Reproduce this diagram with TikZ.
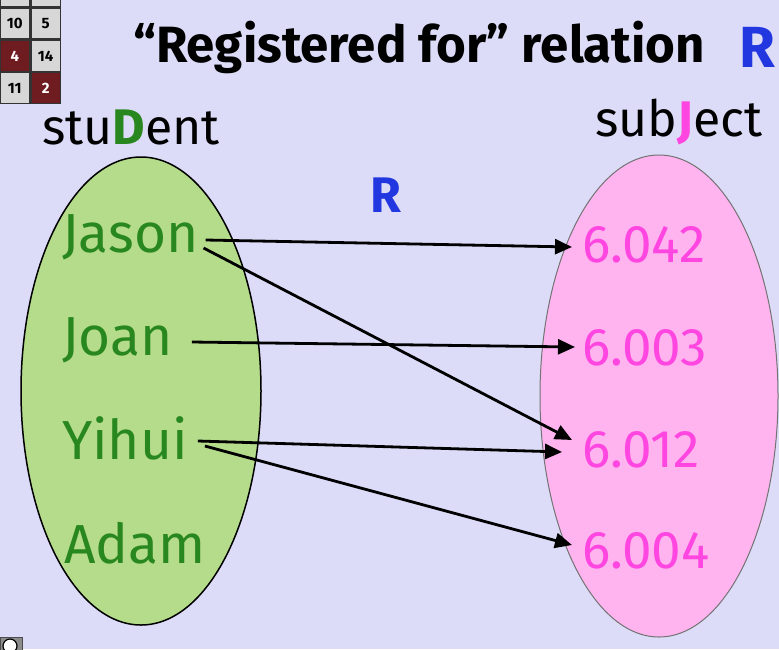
\documentclass[tikz,border=0pt]{standalone}
\usepackage{fontspec}
\setmainfont{Fira Sans}
\usetikzlibrary{arrows.meta,positioning}
\definecolor{bgcol}{RGB}{220,220,248}
\definecolor{studgreen}{RGB}{180,220,138}
\definecolor{subjpink}{RGB}{255,180,240}
\definecolor{namegreen}{RGB}{40,135,30}
\definecolor{numpink}{RGB}{255,70,225}
\definecolor{rblue}{RGB}{35,55,225}
\definecolor{cellgray}{RGB}{215,215,215}
\definecolor{cellred}{RGB}{110,28,32}

\begin{document}
\begin{tikzpicture}[x = 1pt, y = -1pt,
    every node/.style = {inner sep = 0pt},
    studname/.style = {anchor = west, text = namegreen, font = \fontsize{55}{55}\selectfont},
    subjnum/.style = {anchor = west, text = numpink, font = \fontsize{53}{53}\selectfont},
    setlabel/.style = {font = \fontsize{50}{50}\selectfont},
    rel/.style = {-{Triangle[length = 17pt, width = 15pt]}, line width = 2.8pt},
    cell/.style = {draw = black!80, line width = 1.4pt, minimum width = 29.5pt, minimum height = 31pt, font = \bfseries\fontsize{15}{15}\selectfont}]
    \fill[bgcol] (0,0) rectangle (779,649);
    \useasboundingbox (0,0) rectangle (779,649);

    % corner grid
    \node[cell, fill = cellgray] (c11) at (14.75,-9) {};
    \node[cell, fill = cellgray, right = 0pt of c11] (c12) {};
    \node[cell, fill = cellgray, below = 0pt of c11] (c21) {10};
    \node[cell, fill = cellgray, right = 0pt of c21] (c22) {5};
    \node[cell, fill = cellred, text = white, below = 0pt of c21] (c31) {4};
    \node[cell, fill = cellgray, right = 0pt of c31] (c32) {14};
    \node[cell, fill = cellgray, below = 0pt of c31] (c41) {11};
    \node[cell, fill = cellred, text = white, right = 0pt of c41] (c42) {2};

    % title
    \node[anchor = west, font = \bfseries\fontsize{51}{51}\selectfont] (title) at (133,47) {“Registered for” relation};
    \node[right = 34pt of title, text = rblue, font = \bfseries\fontsize{58}{58}\selectfont] (titleR) {R};

    % the two sets
    \draw[fill = studgreen, line width = 1.5pt] (141,391) ellipse [x radius = 120pt, y radius = 234pt];
    \draw[fill = subjpink, draw = black!55, line width = 1pt] (659,396) ellipse [x radius = 119pt, y radius = 241pt];
    \node[setlabel] (student) at (131,127) {stu{\color{namegreen}\bfseries D}ent};
    \node[setlabel] (subject) at (679,122) {sub{\color{numpink}\bfseries J}ect};
    \node[text = rblue, font = \bfseries\fontsize{50}{50}\selectfont] (relR) at (386,195) {R};

    % students
    \node[studname] (jason) at (62,237) {Jason};
    \node[studname] (joan) at (62,340) {Joan};
    \node[studname] (yihui) at (62,438) {Yihui};
    \node[studname] (adam) at (64,543) {Adam};

    % subjects
    \node[subjnum] (s042) at (582,245) {6.042};
    \node[subjnum] (s003) at (582,348) {6.003};
    \node[subjnum] (s012) at (582,450) {6.012};
    \node[subjnum] (s004) at (582,551) {6.004};

    % registrations
    \draw[rel] ([xshift = 7pt, yshift = -3pt]jason.east) -- ([xshift = -10pt, yshift = -2pt]s042.west);
    \draw[rel] ([xshift = 5pt, yshift = -11pt]jason.east) -- ([xshift = -10pt, yshift = 10pt]s012.west);
    \draw[rel] ([xshift = 19pt, yshift = -2pt]joan.east) -- ([xshift = -7pt, yshift = 1pt]s003.west);
    \draw[rel] ([xshift = 10pt, yshift = -3pt]yihui.east) -- ([xshift = -20pt, yshift = -2pt]s012.west);
    \draw[rel] ([xshift = 17pt, yshift = -8pt]yihui.east) -- ([xshift = -10pt, yshift = 6pt]s004.west);

    % corner badge
    \draw[fill = black!45, draw = black!70, line width = 1pt] (0,637) rectangle (22,652);
    \draw[fill = white, line width = 1.2pt] (10,646) circle [radius = 7pt];
\end{tikzpicture}
\end{document}
